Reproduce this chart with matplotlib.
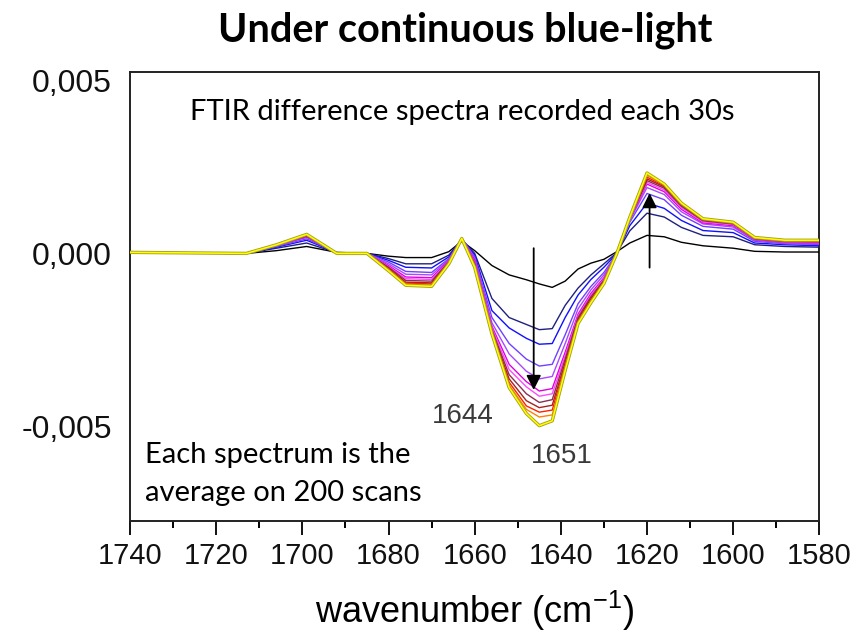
import numpy as np
import matplotlib
matplotlib.use("Agg")
import matplotlib.pyplot as plt
import matplotlib.patheffects as pe
from matplotlib.ticker import MultipleLocator, FixedLocator

wn = [1740, 1713, 1706, 1699, 1692, 1685, 1680, 1676, 1670, 1666, 1663, 1660,
      1656, 1652, 1648, 1645, 1642, 1639, 1636, 1633, 1630, 1627, 1624, 1620,
      1616, 1612, 1607, 1600, 1595, 1588, 1580]

# difference absorbance, units of 1e-3, one spectrum every 30 s
s00 = [0.03, 0.0, 0.08, 0.20, 0.03, 0.0, -0.08, -0.12, -0.12, 0.05, 0.35, 0.08,
       -0.35, -0.62, -0.76, -0.88, -0.98, -0.80, -0.45, -0.28, -0.17, 0.05, 0.30, 0.52,
       0.48, 0.32, 0.22, 0.15, 0.06, 0.04, 0.04]
s01 = [0.03, 0.0, 0.15, 0.30, 0.02, 0.0, -0.15, -0.30, -0.30, -0.05, 0.40, 0.0,
       -1.30, -1.85, -2.05, -2.20, -2.17, -1.50, -1.00, -0.62, -0.30, 0.02, 0.65, 1.16,
       1.05, 0.75, 0.52, 0.48, 0.25, 0.20, 0.18]
s02 = [0.03, 0.0, 0.18, 0.38, 0.02, 0.0, -0.20, -0.40, -0.42, -0.10, 0.42, -0.05,
       -1.65, -2.15, -2.45, -2.62, -2.60, -1.85, -1.20, -0.75, -0.40, 0.0, 0.80, 1.45,
       1.30, 0.95, 0.66, 0.60, 0.30, 0.25, 0.22]
s03 = [0.03, 0.0, 0.20, 0.42, 0.02, 0.0, -0.25, -0.52, -0.55, -0.15, 0.43, -0.10,
       -1.85, -2.60, -3.05, -3.25, -3.20, -2.35, -1.45, -0.95, -0.55, 0.0, 0.90, 1.73,
       1.55, 1.10, 0.78, 0.70, 0.35, 0.28, 0.26]
s04 = [0.03, 0.0, 0.22, 0.46, 0.02, 0.0, -0.30, -0.60, -0.62, -0.18, 0.43, -0.15,
       -2.00, -2.90, -3.40, -3.62, -3.55, -2.60, -1.60, -1.05, -0.62, 0.0, 0.95, 1.90,
       1.70, 1.20, 0.85, 0.76, 0.38, 0.30, 0.28]
s05 = [0.03, 0.0, 0.23, 0.48, 0.01, 0.0, -0.35, -0.68, -0.70, -0.20, 0.43, -0.20,
       -2.10, -3.20, -3.70, -3.97, -3.90, -2.85, -1.75, -1.15, -0.70, 0.0, 0.98, 2.00,
       1.78, 1.27, 0.88, 0.80, 0.40, 0.32, 0.30]
s06 = [0.03, 0.0, 0.24, 0.50, 0.01, 0.0, -0.38, -0.73, -0.75, -0.22, 0.43, -0.25,
       -2.15, -3.35, -3.85, -4.12, -4.05, -2.95, -1.80, -1.20, -0.74, 0.0, 1.00, 2.05,
       1.83, 1.32, 0.91, 0.83, 0.41, 0.33, 0.31]
s07 = [0.03, 0.0, 0.24, 0.50, 0.01, 0.0, -0.40, -0.78, -0.80, -0.24, 0.43, -0.28,
       -2.20, -3.50, -4.05, -4.30, -4.22, -3.05, -1.85, -1.25, -0.77, 0.0, 1.00, 2.10,
       1.88, 1.36, 0.94, 0.85, 0.42, 0.34, 0.33]
s08 = [0.03, 0.0, 0.25, 0.52, 0.01, 0.0, -0.43, -0.83, -0.85, -0.26, 0.43, -0.32,
       -2.25, -3.62, -4.25, -4.45, -4.38, -3.15, -1.90, -1.30, -0.80, 0.0, 1.02, 2.15,
       1.92, 1.40, 0.96, 0.87, 0.43, 0.35, 0.35]
s09 = [0.03, 0.0, 0.25, 0.53, 0.01, 0.0, -0.45, -0.86, -0.88, -0.28, 0.43, -0.35,
       -2.28, -3.72, -4.40, -4.58, -4.52, -3.22, -1.95, -1.35, -0.83, 0.0, 1.03, 2.20,
       1.95, 1.42, 0.98, 0.89, 0.44, 0.36, 0.36]
s10 = [0.03, 0.0, 0.25, 0.54, 0.01, 0.0, -0.47, -0.89, -0.91, -0.29, 0.43, -0.38,
       -2.30, -3.80, -4.50, -4.72, -4.66, -3.30, -2.00, -1.38, -0.85, 0.0, 1.04, 2.25,
       1.98, 1.44, 0.99, 0.90, 0.45, 0.37, 0.37]
s11 = [0.03, 0.0, 0.25, 0.55, 0.0, 0.0, -0.50, -0.92, -0.95, -0.30, 0.43, -0.40,
       -2.32, -3.87, -4.62, -4.97, -4.83, -3.38, -2.02, -1.42, -0.87, 0.0, 1.04, 2.32,
       2.00, 1.45, 1.00, 0.90, 0.46, 0.38, 0.38]

spectra = [s00, s01, s02, s03, s04, s05, s06, s07, s08, s09, s10, s11]
colors = ['#000000', '#202080', '#1010ff', '#7040ff', '#a848ff', '#e000e0',
          '#ff48ff', '#8a3050', '#a82020', '#ff2000', '#ff8000', '#ffff00']

yticks = [0.005, 0.0, -0.005]
ytick_labels = ['0,005', '0,000', '-0,005']
xticks = [1740, 1720, 1700, 1680, 1660, 1640, 1620, 1600, 1580]

plt.rcParams['font.family'] = ['Liberation Sans', 'DejaVu Sans']
plt.rcParams['mathtext.default'] = 'regular'

fig = plt.figure(figsize=(8.67, 6.44), dpi=100)
ax = fig.add_axes([0.150, 0.191, 0.795, 0.697])

x = np.array(wn)
for s, c in zip(spectra, colors):
    y = np.array(s) * 1e-3
    if c == '#ffff00':
        ax.plot(x, y, color=c, lw=1.1, zorder=3,
                path_effects=[pe.withStroke(linewidth=2.4, foreground='#a8a020')])
    else:
        ax.plot(x, y, color=c, lw=1.0, zorder=3)

ax.set_xlim(1740, 1580)
ax.set_ylim(-0.00772, 0.00523)

ax.xaxis.set_major_locator(FixedLocator(xticks))
ax.xaxis.set_minor_locator(MultipleLocator(10))
ax.set_xticklabels([str(t) for t in xticks])
ax.tick_params(axis='x', which='major', direction='out', length=10, width=1.4,
               labelsize=21, pad=5, colors='#111111')
ax.tick_params(axis='x', which='minor', direction='out', length=5, width=1.4)
ax.set_yticks(yticks)
ax.set_yticklabels(ytick_labels)
ax.tick_params(axis='y', length=0, labelsize=23, pad=13, colors='#111111')

for sp in ax.spines.values():
    sp.set_linewidth(1.4)
    sp.set_color('#222222')

ax.set_xlabel('wavenumber (cm$^{-1}$)', fontsize=26, labelpad=14)

# arrows showing the evolution with illumination time
ax.annotate('', xy=(1646.3, -0.00402), xytext=(1646.3, 0.00023),
            arrowprops=dict(arrowstyle='-|>', color='black', lw=1.3,
                            mutation_scale=22), zorder=5)
ax.annotate('', xy=(1619.4, 0.00182), xytext=(1619.4, -0.00049),
            arrowprops=dict(arrowstyle='-|>', color='black', lw=1.3,
                            mutation_scale=22), zorder=5)

ax.text(1662.8, -0.00468, '1644', fontsize=20, color='#3a3a3a', ha='center', va='center')
ax.text(1639.8, -0.00584, '1651', fontsize=20, color='#3a3a3a', ha='center', va='center')

ax.text(0.087, 0.911, 'FTIR difference spectra recorded each 30s', transform=ax.transAxes,
        fontsize=21, family=['Lato', 'DejaVu Sans'], ha='left', va='center')
ax.text(0.022, 0.147, 'Each spectrum is the', transform=ax.transAxes,
        fontsize=21, family=['Lato', 'DejaVu Sans'], ha='left', va='center')
ax.text(0.022, 0.062, 'average on 200 scans', transform=ax.transAxes,
        fontsize=21, family=['Lato', 'DejaVu Sans'], ha='left', va='center')

fig.text(0.537, 0.953, 'Under continuous blue-light', fontsize=28.5, fontweight='bold',
         family=['Lato', 'DejaVu Sans'], ha='center', va='center')

fig.savefig('out.png', dpi=100)
